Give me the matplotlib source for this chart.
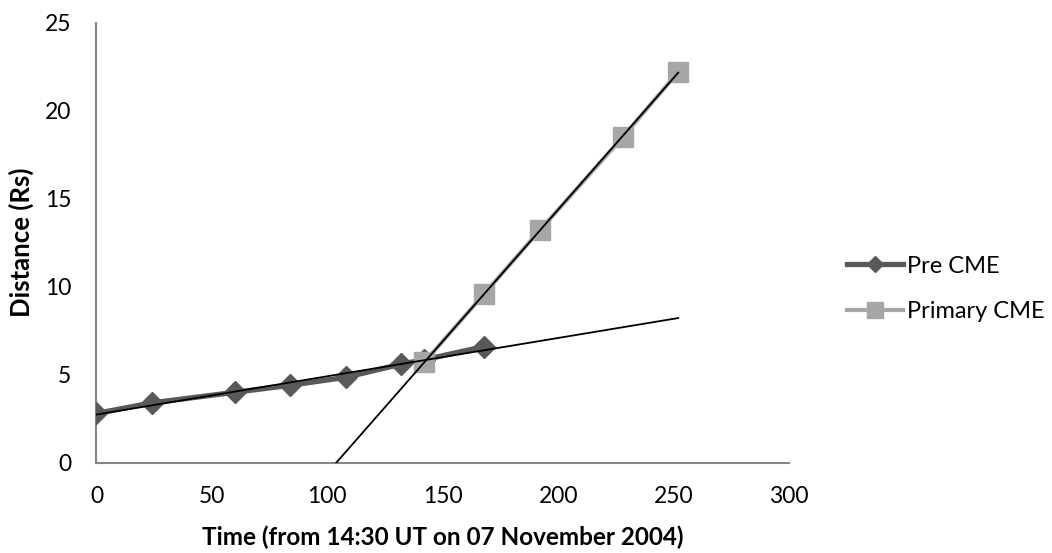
import numpy as np
import matplotlib
matplotlib.use('Agg')
import matplotlib.pyplot as plt

plt.rcParams['font.family'] = ['Lato', 'DejaVu Sans']

# Pre CME data
pre_t = [0, 24, 60, 84, 108, 132, 142, 168]
pre_d = [2.8, 3.4, 4.0, 4.4, 4.85, 5.6, 5.85, 6.6]

# Primary CME data
prim_t = [142, 168, 192, 228, 252]
prim_d = [5.7, 9.6, 13.2, 18.5, 22.2]

fig = plt.figure(figsize=(10.52, 5.53), dpi=100)
ax = fig.add_axes([0.0917, 0.1633, 0.6583, 0.7957])

ax.plot(pre_t, pre_d, color='#595959', lw=3.8, marker='D', markersize=11,
        label='Pre CME', zorder=3)
ax.plot(prim_t, prim_d, color='#A6A6A6', lw=3.0, marker='s', markersize=15,
        label='Primary CME', zorder=4)

# linear trend lines (forecast out to 252)
t_line = np.linspace(0, 252, 200)
k1, b1 = np.polyfit(pre_t, pre_d, 1)
ax.plot(t_line, k1 * t_line + b1, color='black', lw=1.3, zorder=5)
k2, b2 = np.polyfit(prim_t, prim_d, 1)
ax.plot(t_line, k2 * t_line + b2, color='black', lw=1.3, zorder=5)

ax.set_xlim(0, 300)
ax.set_ylim(0, 25)
ax.set_xticks(range(0, 301, 50))
ax.set_yticks(range(0, 26, 5))
ax.tick_params(length=0, labelsize=16.5)
ax.tick_params(axis='x', pad=17)
ax.tick_params(axis='y', pad=18)
for s in ['top', 'right']:
    ax.spines[s].set_visible(False)
for s in ['left', 'bottom']:
    ax.spines[s].set_color('#868686')
    ax.spines[s].set_linewidth(1.5)

ax.set_xlabel('Time (from 14:30 UT on 07 November 2004)', fontsize=17.5,
              fontweight='bold', labelpad=13)
ax.set_ylabel('Distance (Rs)', fontsize=18.5, fontweight='bold', labelpad=8)

leg = ax.legend(loc='center left', bbox_to_anchor=(1.053, 0.395), frameon=False,
                fontsize=17, handlelength=2.37, handletextpad=0.17,
                labelspacing=1.03, markerscale=0.75)

fig.savefig('out.png', dpi=100)
